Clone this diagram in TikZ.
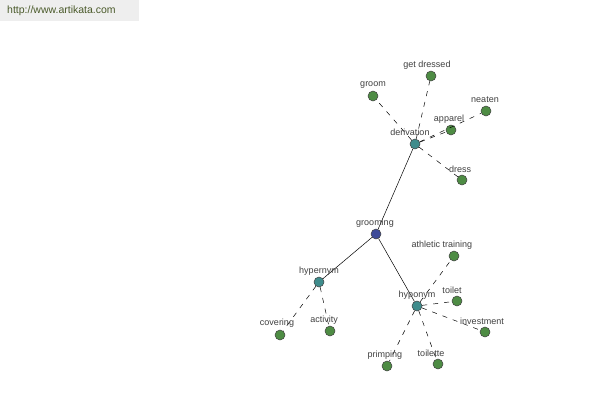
\documentclass[tikz,border=0pt]{standalone}
\usepackage{fontspec}
\setmainfont{Liberation Sans}
\begin{document}
\begin{tikzpicture}[x=1pt,y=-1pt,
  vtx/.style={circle,draw=black!75,line width=0.5pt,minimum size=10pt,inner sep=0pt},
  gnode/.style={vtx,fill=gcol},
  tnode/.style={vtx,fill=tcol},
  bnode/.style={vtx,fill=bcol},
  lbl/.style={font=\fontsize{9}{10}\selectfont,text=black!75,inner sep=0pt},
  solidedge/.style={draw=black,line width=0.5pt},
  dashedge/.style={draw=black,line width=0.5pt,dash pattern=on 5pt off 6pt}]
\definecolor{gcol}{HTML}{4E8C44}
\definecolor{tcol}{HTML}{3F8C8C}
\definecolor{bcol}{HTML}{3D4A98}
\definecolor{bannerbg}{HTML}{EEEEEE}
\definecolor{bannertx}{HTML}{4A5A2A}
\useasboundingbox (0,0) rectangle (600,400);
\fill[white] (0,0) rectangle (600,400);
\fill[bannerbg] (0,0) rectangle (139,21);
\node[font=\fontsize{10.5}{12}\selectfont,text=bannertx,anchor=west,inner sep=0pt] (url) at (7,11) {http://www.artikata.com};
% nodes
\node[bnode] (grooming) at (376,234) {};
\node[tnode] (derivation) at (415,144) {};
\node[tnode] (hypernym) at (319,282) {};
\node[tnode] (hyponym) at (417,306) {};
\node[gnode] (getdressed) at (431,76) {};
\node[gnode] (groom) at (373,96) {};
\node[gnode] (neaten) at (486,111) {};
\node[gnode] (apparel) at (451,130) {};
\node[gnode] (dress) at (462,180) {};
\node[gnode] (athletic) at (454,256) {};
\node[gnode] (toilet) at (457,301) {};
\node[gnode] (investment) at (485,332) {};
\node[gnode] (toilette) at (438,364) {};
\node[gnode] (primping) at (387,366) {};
\node[gnode] (covering) at (280,335) {};
\node[gnode] (activity) at (330,331) {};
% edges
\draw[solidedge] (grooming) -- (derivation);
\draw[solidedge] (grooming) -- (hypernym);
\draw[solidedge] (grooming) -- (hyponym);
\draw[dashedge] (derivation) -- (getdressed);
\draw[dashedge] (derivation) -- (groom);
\draw[dashedge] (derivation) -- (neaten);
\draw[dashedge] (derivation) -- (apparel);
\draw[dashedge] (derivation) -- (dress);
\draw[dashedge] (hyponym) -- (athletic);
\draw[dashedge] (hyponym) -- (toilet);
\draw[dashedge] (hyponym) -- (investment);
\draw[dashedge] (hyponym) -- (toilette);
\draw[dashedge] (hyponym) -- (primping);
\draw[dashedge] (hypernym) -- (covering);
\draw[dashedge] (hypernym) -- (activity);
% labels
\node[lbl] (lgrooming) at (375,223) {grooming};
\node[lbl] (lderivation) at (410,132) {derivation};
\node[lbl] (lhypernym) at (319,271) {hypernym};
\node[lbl] (lhyponym) at (417,295) {hyponym};
\node[lbl] (lgetdressed) at (427,65) {get dressed};
\node[lbl] (lgroom) at (373,85) {groom};
\node[lbl] (lneaten) at (485,100) {neaten};
\node[lbl] (lapparel) at (449,119) {apparel};
\node[lbl] (ldress) at (460,169) {dress};
\node[lbl] (lathletic) at (442,245) {athletic training};
\node[lbl] (ltoilet) at (452,290) {toilet};
\node[lbl] (linvestment) at (482,321) {investment};
\node[lbl] (ltoilette) at (431,353) {toilette};
\node[lbl] (lprimping) at (385,355) {primping};
\node[lbl] (lcovering) at (277,323) {covering};
\node[lbl] (lactivity) at (324,320) {activity};
\end{tikzpicture}
\end{document}
